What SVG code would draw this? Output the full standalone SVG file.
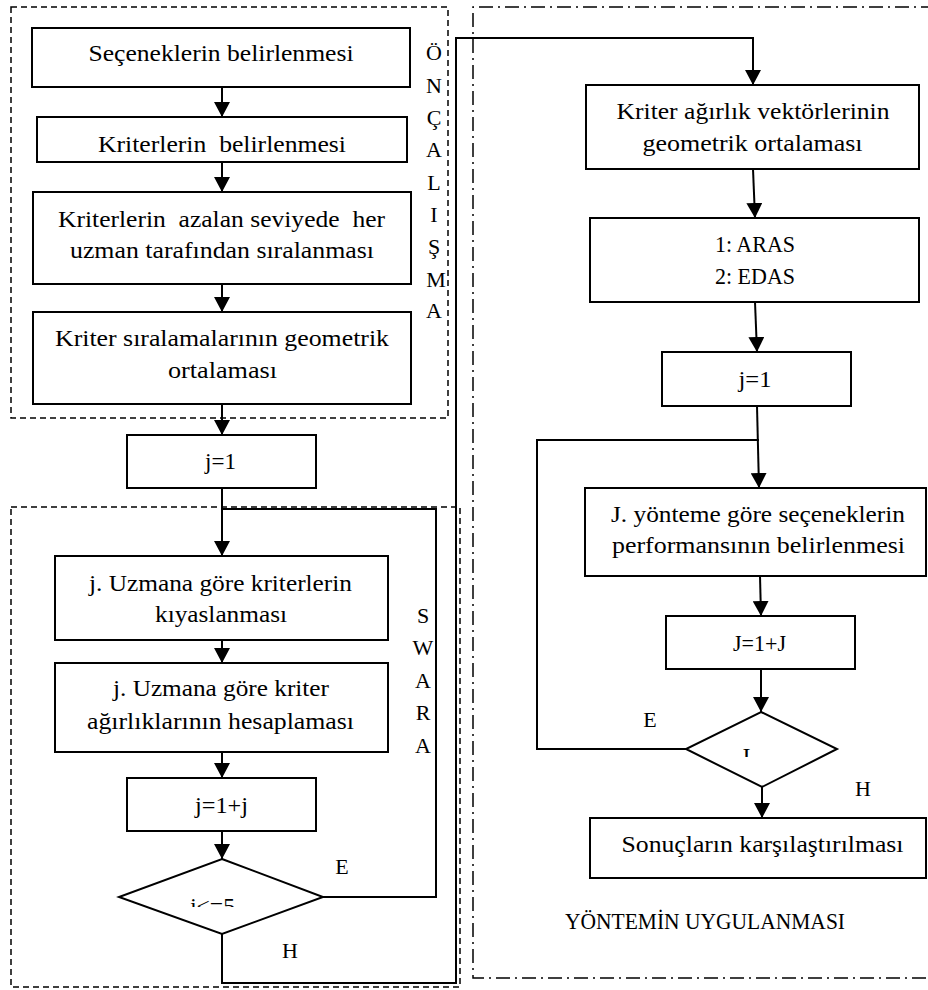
<svg xmlns="http://www.w3.org/2000/svg" width="928" height="990" viewBox="0 0 928 990">
<style>
text { font-family: "Liberation Serif", "Times New Roman", serif; font-size: 24px; fill: #000; text-anchor: middle; }
.lbl { font-size: 22px; }
.box { fill: #fff; stroke: #000; stroke-width: 2; }
.dia { fill: #fff; stroke: #000; stroke-width: 2; }
.dash { fill: none; stroke: #000; stroke-width: 1.5; stroke-dasharray: 6 4; }
.dashdot { fill: none; stroke: #000; stroke-width: 1.5; stroke-dasharray: 14 5 2 5; }
.con { fill: none; stroke: #000; stroke-width: 2; }
.arr { marker-end: url(#ah); }
</style>
<defs>
<marker id="ah" markerUnits="userSpaceOnUse" markerWidth="16" markerHeight="16" refX="15" refY="8" orient="auto">
<path d="M0,0 L15,8 L0,16 Z" fill="#000"/>
</marker>
<clipPath id="clipD1"><rect x="150" y="880" width="140" height="27"/></clipPath>
<clipPath id="clipD2"><rect x="720" y="740" width="60" height="17"/></clipPath>
</defs>

<!-- region frames -->
<g id="region-on-calisma">
<rect class="dash" x="11" y="7" width="437" height="411"/>
<text class="lbl" x="434" y="60">Ö</text>
<text class="lbl" x="434" y="93">N</text>
<text class="lbl" x="434" y="125">Ç</text>
<text class="lbl" x="434" y="157">A</text>
<text class="lbl" x="434" y="190">L</text>
<text class="lbl" x="434" y="222">I</text>
<text class="lbl" x="434" y="254">Ş</text>
<text class="lbl" x="436" y="287">M</text>
<text class="lbl" x="434" y="318">A</text>
</g>
<g id="region-swara">
<rect class="dash" x="11" y="507" width="449" height="480"/>
<text class="lbl" x="423" y="623">S</text>
<text class="lbl" x="423" y="655">W</text>
<text class="lbl" x="423" y="688">A</text>
<text class="lbl" x="423" y="720">R</text>
<text class="lbl" x="423" y="753">A</text>
</g>
<g id="region-yontem">
<path class="dashdot" d="M935,7 H473 V978 H935"/>
<text x="705" y="929" textLength="280" lengthAdjust="spacingAndGlyphs">YÖNTEMİN UYGULANMASI</text>
</g>

<!-- connectors -->
<g id="connectors">
<path class="con arr" d="M222,87 V117"/>
<path class="con arr" d="M222,162 V192"/>
<path class="con arr" d="M222,284 V312"/>
<path class="con arr" d="M222,404 V435"/>
<path class="con arr" d="M222,488 V556"/>
<path class="con arr" d="M222,640 V663"/>
<path class="con arr" d="M222,752 V778"/>
<path class="con arr" d="M222,831 V859"/>
<path class="con" d="M323,897 H436 V509 H222"/>
<path class="con arr" d="M222,934 V983 H456 V38 H753 V85"/>
<path class="con arr" d="M753,169 L755,218"/>
<path class="con arr" d="M755,302 L757,352"/>
<path class="con arr" d="M757,406 L759,488"/>
<path class="con" d="M686,749 H537 V440 H759"/>
<path class="con arr" d="M760,576 L761,616"/>
<path class="con arr" d="M761,669 V712"/>
<path class="con arr" d="M762,787 V818"/>
<text class="lbl" x="342" y="874">E</text>
<text class="lbl" x="290" y="958">H</text>
<text class="lbl" x="650" y="727">E</text>
<text class="lbl" x="863" y="796">H</text>
</g>

<!-- left column nodes -->
<g id="n-secenekler">
<rect class="box" x="32" y="28" width="378" height="59"/>
<text x="221" y="61" textLength="265" lengthAdjust="spacingAndGlyphs">Seçeneklerin belirlenmesi</text>
</g>
<g id="n-kriterler">
<rect class="box" x="37" y="117" width="370" height="45"/>
<text x="222" y="152" textLength="248" lengthAdjust="spacingAndGlyphs" xml:space="preserve">Kriterlerin  belirlenmesi</text>
</g>
<g id="n-siralama">
<rect class="box" x="33" y="192" width="378" height="92"/>
<text x="221.5" y="227" textLength="327" lengthAdjust="spacingAndGlyphs" xml:space="preserve">Kriterlerin  azalan seviyede  her</text>
<text x="222" y="258" textLength="304" lengthAdjust="spacingAndGlyphs">uzman tarafından sıralanması</text>
</g>
<g id="n-geo-ort">
<rect class="box" x="33" y="312" width="378" height="92"/>
<text x="222" y="346" textLength="334" lengthAdjust="spacingAndGlyphs">Kriter sıralamalarının geometrik</text>
<text x="222.5" y="378" textLength="109" lengthAdjust="spacingAndGlyphs">ortalaması</text>
</g>
<g id="n-j1-left">
<rect class="box" x="127" y="435" width="189" height="53"/>
<text x="220.5" y="469" textLength="31" lengthAdjust="spacingAndGlyphs">j=1</text>
</g>
<g id="n-kiyas">
<rect class="box" x="55" y="556" width="333" height="84"/>
<text x="220.5" y="591" textLength="263" lengthAdjust="spacingAndGlyphs">j. Uzmana göre kriterlerin</text>
<text x="221" y="622" textLength="132" lengthAdjust="spacingAndGlyphs">kıyaslanması</text>
</g>
<g id="n-agirlik">
<rect class="box" x="55" y="663" width="333" height="89"/>
<text x="221" y="696" textLength="216" lengthAdjust="spacingAndGlyphs">j. Uzmana göre kriter</text>
<text x="220.5" y="729" textLength="267" lengthAdjust="spacingAndGlyphs">ağırlıklarının hesaplaması</text>
</g>
<g id="n-jinc-left">
<rect class="box" x="127" y="778" width="189" height="53"/>
<text x="221.5" y="813" textLength="53" lengthAdjust="spacingAndGlyphs">j=1+j</text>
</g>
<g id="n-dec-left">
<polygon class="dia" points="222,859 323,897 222,934 119,897"/>
<text x="212.5" y="914" clip-path="url(#clipD1)" textLength="45" lengthAdjust="spacingAndGlyphs">j&lt;=5</text>
</g>

<!-- right column nodes -->
<g id="n-vektor">
<rect class="box" x="586" y="85" width="333" height="84"/>
<text x="753" y="119" textLength="273" lengthAdjust="spacingAndGlyphs">Kriter ağırlık vektörlerinin</text>
<text x="752.5" y="151" textLength="220" lengthAdjust="spacingAndGlyphs">geometrik ortalaması</text>
</g>
<g id="n-yontemler">
<rect class="box" x="590" y="218" width="329" height="84"/>
<text x="755" y="252" textLength="80" lengthAdjust="spacingAndGlyphs">1: ARAS</text>
<text x="755" y="284" textLength="80" lengthAdjust="spacingAndGlyphs">2: EDAS</text>
</g>
<g id="n-j1-right">
<rect class="box" x="662" y="352" width="189" height="54"/>
<text x="755" y="387" textLength="33" lengthAdjust="spacingAndGlyphs">j=1</text>
</g>
<g id="n-performans">
<rect class="box" x="585" y="488" width="341" height="88"/>
<text x="758" y="522" textLength="294" lengthAdjust="spacingAndGlyphs">J. yönteme göre seçeneklerin</text>
<text x="758.5" y="553" textLength="293" lengthAdjust="spacingAndGlyphs">performansının belirlenmesi</text>
</g>
<g id="n-jinc-right">
<rect class="box" x="666" y="616" width="189" height="53"/>
<text x="759.5" y="651" textLength="53" lengthAdjust="spacingAndGlyphs">J=1+J</text>
</g>
<g id="n-dec-right">
<polygon class="dia" points="761,712 837,749 762,787 686,749"/>
<text x="746.5" y="764" font-size="20" clip-path="url(#clipD2)">I</text>
</g>
<g id="n-sonuc">
<rect class="box" x="590" y="818" width="336" height="60"/>
<text x="762.5" y="852" textLength="282" lengthAdjust="spacingAndGlyphs">Sonuçların karşılaştırılması</text>
</g>
</svg>
